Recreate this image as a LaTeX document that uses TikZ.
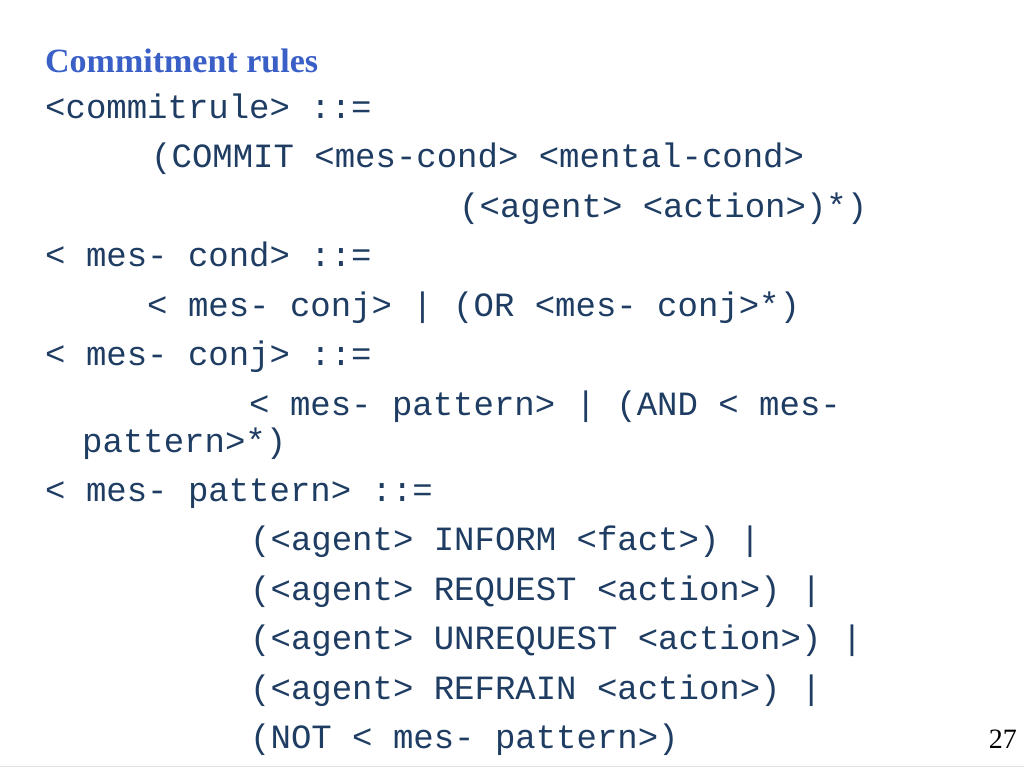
\documentclass[tikz,border=0pt]{standalone}
\usepackage{fontspec}
\setmainfont{Liberation Serif}
\setmonofont{Liberation Mono}
\definecolor{titleblue}{RGB}{58,96,200}
\definecolor{codeblue}{RGB}{31,61,99}
\definecolor{rulegray}{RGB}{225,225,225}

\begin{document}
\begin{tikzpicture}[x=1pt, y=-1pt,
  title/.style={anchor=base west, inner sep=0pt, text=titleblue, font=\fontsize{34}{40}\selectfont\bfseries},
  codeline/.style={anchor=base west, inner sep=0pt, text=codeblue, font=\fontsize{34}{40}\selectfont\ttfamily},
  pagenum/.style={anchor=base east, inner sep=0pt, text=black, font=\fontsize{28}{32}\selectfont}]
\useasboundingbox[fill=white] (0,0) rectangle (1024,768);

\node[title] (head) at (45,72) {Commitment rules};

\node[codeline] (commitrule) at (45,118) {<commitrule> ::=};
\node[codeline] (commit)     at (151,167.5) {(COMMIT <mes-cond> <mental-cond>};
\node[codeline] (agentact)   at (459,217) {(<agent> <action>)*)};

\node[codeline] (mescond)    at (45,266.5) {< mes- cond> ::=};
\node[codeline] (orconj)     at (147,316) {< mes- conj> | (OR <mes- conj>*)};

\node[codeline] (mesconj)    at (45,365.5) {< mes- conj> ::=};
\node[codeline] (andpat)     at (249,415) {< mes- pattern> | (AND < mes-};
\node[codeline] (andwrap)    at (82,452) {pattern>*)};

\node[codeline] (mespattern) at (45,501) {< mes- pattern> ::=};
\node[codeline] (inform)     at (250,550.5) {(<agent> INFORM <fact>) |};
\node[codeline] (request)    at (250,600) {(<agent> REQUEST <action>) |};
\node[codeline] (unrequest)  at (250,649.5) {(<agent> UNREQUEST <action>) |};
\node[codeline] (refrain)    at (250,699) {(<agent> REFRAIN <action>) |};
\node[codeline] (notpat)     at (250,748.5) {(NOT < mes- pattern>)};

\node[pagenum] (page) at (1017,748.5) {27};

\draw[rulegray] (0,766) -- (1024,766);
\end{tikzpicture}
\end{document}
